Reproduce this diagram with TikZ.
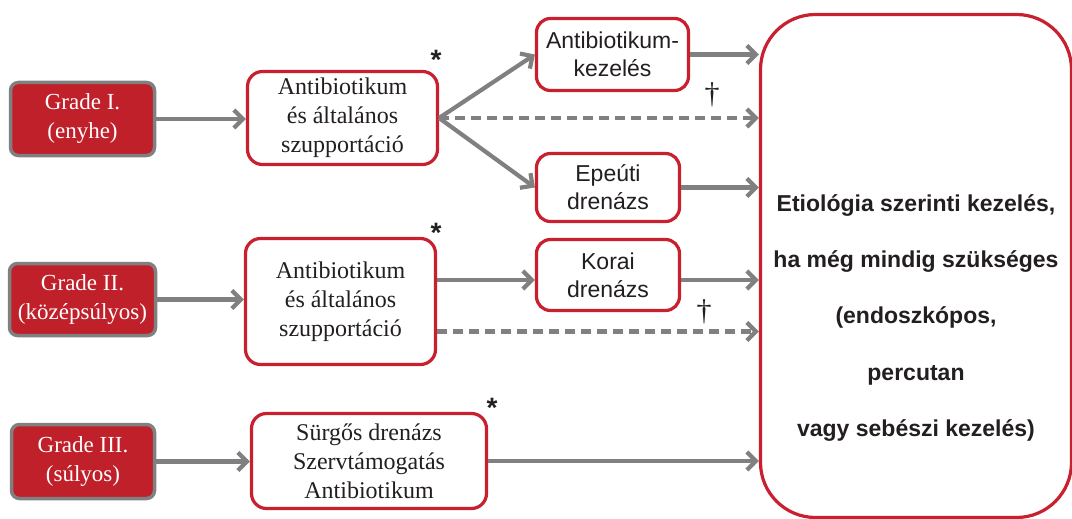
\documentclass[tikz,border=0pt]{standalone}
\usepackage{fontspec}
\setmainfont{Liberation Serif}
\setsansfont{Liberation Sans}
\usetikzlibrary{arrows.meta}
\definecolor{gred}{HTML}{C0202A}
\definecolor{bred}{HTML}{C8202E}
\definecolor{agrey}{HTML}{808080}
\definecolor{txt}{HTML}{231F20}
\begin{document}
\begin{tikzpicture}[x=1pt,y=-1pt,
  grade/.style={draw=agrey, line width=3.5pt, fill=gred, rounded corners=8pt, text=white,
    font=\fontsize{23}{29}\selectfont, align=center, inner sep=0pt},
  abbox/.style={draw=bred, line width=3.2pt, fill=white, rounded corners=15pt, text=txt,
    font=\fontsize{24}{29}\selectfont, align=center, inner sep=0pt},
  kbox/.style={draw=bred, line width=3.2pt, fill=white, rounded corners=14pt, text=txt,
    font=\sffamily\fontsize{23}{28}\selectfont, align=center, inner sep=0pt},
  arr/.style={draw=agrey, line width=4.2pt, -{Straight Barb[length=9pt,width=18pt]}},
  darr/.style={arr, dash pattern=on 10pt off 6pt},
  notemark/.style={text=txt, inner sep=0pt}
]
\useasboundingbox (0,0) rectangle (1072,519);
% grade boxes
\node[grade, minimum width=144pt, minimum height=73pt] (g1) at (82.5,119) {Grade I.\\(enyhe)};
\node[grade, minimum width=146pt, minimum height=72pt] (g2) at (82.5,299.5) {Grade II.\\(középsúlyos)};
\node[grade, minimum width=143pt, minimum height=74pt] (g3) at (83,461.5) {Grade III.\\(súlyos)};
% middle boxes
\node[abbox, minimum width=190pt, minimum height=93pt] (ab1) at (342.5,118) {Antibiotikum\\és általános\\szupportáció};
\node[abbox, minimum width=190pt, minimum height=126pt] (ab2) at (340.5,301.5) {Antibiotikum\\és általános\\szupportáció};
\node[abbox, minimum width=235pt, minimum height=95pt] (ab3) at (369,461) {Sürgős drenázs\\Szervtámogatás\\Antibiotikum};
% small boxes
\node[kbox, minimum width=152pt, minimum height=72pt] (ak) at (612.5,54.5) {Antibiotikum-\\kezelés};
\node[kbox, minimum width=143pt, minimum height=68pt] (ep) at (608,187.5) {Epeúti\\drenázs};
\node[kbox, minimum width=143pt, minimum height=71pt] (ko) at (608,275) {Korai\\drenázs};
% right box
\node[draw=bred, line width=3.2pt, fill=white, rounded corners=55pt, minimum width=311pt, minimum height=503pt, inner sep=0pt] (rb) at (916,266) {};
\node[text=txt, font=\sffamily\bfseries\fontsize{23}{56.5}\selectfont, align=center, inner sep=0pt] (rt) at (916,318)
  {Etiológia szerinti kezelés,\\ha még mindig szükséges\\(endoszkópos,\\percutan\\vagy sebészi kezelés)};
% marks
\node[notemark, font=\sffamily\bfseries\fontsize{28}{28}\selectfont] (s1) at (436,60) {*};
\node[notemark, font=\sffamily\bfseries\fontsize{28}{28}\selectfont] (s2) at (436,233) {*};
\node[notemark, font=\sffamily\bfseries\fontsize{28}{28}\selectfont] (s3) at (492,408) {*};
\node[notemark, font=\fontsize{30}{30}\selectfont] (d1) at (712,95) {†};
\node[notemark, font=\fontsize{30}{30}\selectfont] (d2) at (704,312) {†};
% coordinates
\coordinate (koin) at ([yshift=-5pt]ko.west);
\coordinate (ab2d) at ([yshift=-30pt]ab2.east);
% arrows
\draw[arr] (g1.east) -- (g1.east -| ab1.west);
\draw[arr] (g2.east) -- (g2.east -| ab2.west);
\draw[arr] (g3.east) -- (g3.east -| ab3.west);
\draw[arr] (ab1.east) -- (ak.west);
\draw[arr] (ab1.east) -- (ep.west);
\draw[darr] (ab1.east) -- (ab1.east -| rb.west);
\draw[arr] (ak.east) -- (ak.east -| rb.west);
\draw[arr] (ep.east) -- (ep.east -| rb.west);
\draw[arr] (ab2.east |- koin) -- (koin);
\draw[arr] (ko.east |- koin) -- (rb.west |- koin);
\draw[darr] (ab2d) -- (ab2d -| rb.west);
\draw[arr] (ab3.east) -- (ab3.east -| rb.west);
\end{tikzpicture}
\end{document}
